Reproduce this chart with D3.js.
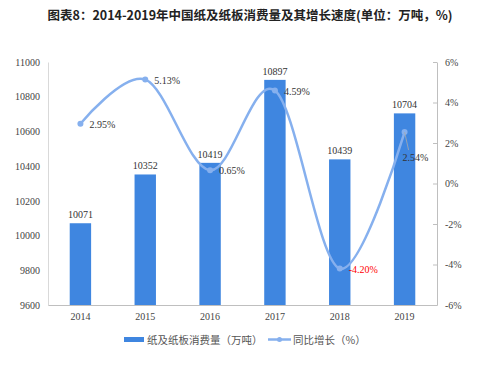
<!DOCTYPE html>
<html>
<head>
<meta charset="utf-8">
<script src="https://cdn.jsdelivr.net/npm/d3@7"></script>
<style>
body { margin: 0; background: #fff; }
</style>
</head>
<body>
<div id="chart"></div>
<script>
var years = ["2014", "2015", "2016", "2017", "2018", "2019"];
var consumption = [10071, 10352, 10419, 10897, 10439, 10704];
var growth = [2.95, 5.13, 0.65, 4.59, -4.20, 2.54];
var leftTicks = [9600, 9800, 10000, 10200, 10400, 10600, 10800, 11000];
var rightTicks = [-6, -4, -2, 0, 2, 4, 6];
var title = "图表8：2014-2019年中国纸及纸板消费量及其增长速度(单位：万吨，%)";
var legendBar = "纸及纸板消费量（万吨）";
var legendLine = "同比增长（%）";

var w = 500, h = 367;
var pLeft = 48, pRight = 437, pTop = 62, pBottom = 305;
var serif = "'Liberation Serif', 'DejaVu Serif', serif";
var barColor = "#3f86e0";
var lineColor = "#86b0ee";

var svg = d3.select("#chart").append("svg")
    .attr("width", w).attr("height", h);

svg.append("text")
    .attr("x", 250).attr("y", 20)
    .attr("text-anchor", "middle")
    .attr("font-family", "'Noto Sans CJK SC', sans-serif")
    .attr("font-weight", "bold")
    .attr("font-size", "12.5px")
    .attr("fill", "#222")
    .text(title);

var x = d3.scaleBand().domain(years).range([pLeft, pRight]).paddingInner(0.67).paddingOuter(0.335);
var yL = d3.scaleLinear().domain([9600, 11000]).range([pBottom, pTop]);
var yR = d3.scaleLinear().domain([-6, 6]).range([pBottom, pTop]);

// axes
var gl = svg.append("g").attr("transform", "translate(" + pLeft + ",0)")
    .call(d3.axisLeft(yL).tickValues(leftTicks).tickSize(0).tickPadding(8).tickFormat(d3.format("d")));
gl.select(".domain").attr("stroke", "#d9d9d9");
gl.selectAll("text").attr("font-family", serif).attr("font-size", "10px").attr("fill", "#444");

var gr = svg.append("g").attr("transform", "translate(" + pRight + ",0)")
    .call(d3.axisRight(yR).tickValues(rightTicks).tickSize(0).tickPadding(8)
        .tickFormat(function(d) { return d + "%"; }));
gr.select(".domain").attr("stroke", "#bfbfbf");
gr.selectAll("text").attr("font-family", serif).attr("font-size", "10px").attr("fill", "#444");
gr.selectAll(".tick").append("line").attr("x1", -4).attr("x2", 0).attr("stroke", "#bfbfbf");

var gb = svg.append("g").attr("transform", "translate(0," + pBottom + ")")
    .call(d3.axisBottom(x).tickSize(0).tickPadding(8));
gb.select(".domain").attr("stroke", "#bfbfbf");
gb.selectAll("text").attr("font-family", serif).attr("font-size", "10px").attr("fill", "#444");

// bars
svg.selectAll("rect.bar")
    .data(consumption)
    .enter()
    .append("rect")
    .attr("class", "bar")
    .attr("x", function(d, i) { return x(years[i]); })
    .attr("width", x.bandwidth())
    .attr("y", function(d) { return yL(d); })
    .attr("height", function(d) { return pBottom - yL(d); })
    .attr("fill", barColor);

svg.selectAll("text.barlabel")
    .data(consumption)
    .enter()
    .append("text")
    .attr("class", "barlabel")
    .attr("x", function(d, i) { return x(years[i]) + x.bandwidth() / 2; })
    .attr("y", function(d) { return yL(d) - 5; })
    .attr("text-anchor", "middle")
    .attr("font-family", serif)
    .attr("font-size", "10px")
    .attr("fill", "#333")
    .text(function(d) { return d; });

// growth line
var line = d3.line()
    .x(function(d, i) { return x(years[i]) + x.bandwidth() / 2; })
    .y(function(d) { return yR(d); })
    .curve(d3.curveCatmullRom.alpha(0));

svg.append("path")
    .datum(growth)
    .attr("d", line)
    .attr("fill", "none")
    .attr("stroke", lineColor)
    .attr("stroke-width", 2.5);

svg.selectAll("circle.pt")
    .data(growth)
    .enter()
    .append("circle")
    .attr("class", "pt")
    .attr("cx", function(d, i) { return x(years[i]) + x.bandwidth() / 2; })
    .attr("cy", function(d) { return yR(d); })
    .attr("r", 3)
    .attr("fill", lineColor);

// leader for last label
var lastX = x(years[5]) + x.bandwidth() / 2;
svg.append("line")
    .attr("x1", lastX).attr("y1", yR(growth[5]))
    .attr("x2", lastX + 4).attr("y2", yR(growth[5]) + 18)
    .attr("stroke", "#aaa").attr("stroke-width", 0.8);

svg.selectAll("text.pctlabel")
    .data(growth)
    .enter()
    .append("text")
    .attr("class", "pctlabel")
    .attr("x", function(d, i) {
        var cx = x(years[i]) + x.bandwidth() / 2;
        return i === 5 ? cx - 2 : cx + 9;
    })
    .attr("y", function(d, i) { return yR(d) + (i === 5 ? 29 : 4); })
    .attr("font-family", serif)
    .attr("font-size", "10px")
    .attr("fill", function(d) { return d < 0 ? "#ff0000" : "#333"; })
    .text(function(d) { return d.toFixed(2) + "%"; });

// legend
var lg = svg.append("g").attr("font-family", "'Noto Sans CJK SC', sans-serif").attr("font-size", "10.5px").attr("fill", "#555");
lg.append("rect").attr("x", 124).attr("y", 337).attr("width", 20).attr("height", 5).attr("fill", barColor);
lg.append("text").attr("x", 147).attr("y", 343.5).text(legendBar);
lg.append("line").attr("x1", 268).attr("x2", 291).attr("y1", 339.5).attr("y2", 339.5)
    .attr("stroke", lineColor).attr("stroke-width", 2.5);
lg.append("circle").attr("cx", 279.5).attr("cy", 339.5).attr("r", 2.5).attr("fill", lineColor);
lg.append("text").attr("x", 293).attr("y", 343.5).text(legendLine);
</script>
</body>
</html>
